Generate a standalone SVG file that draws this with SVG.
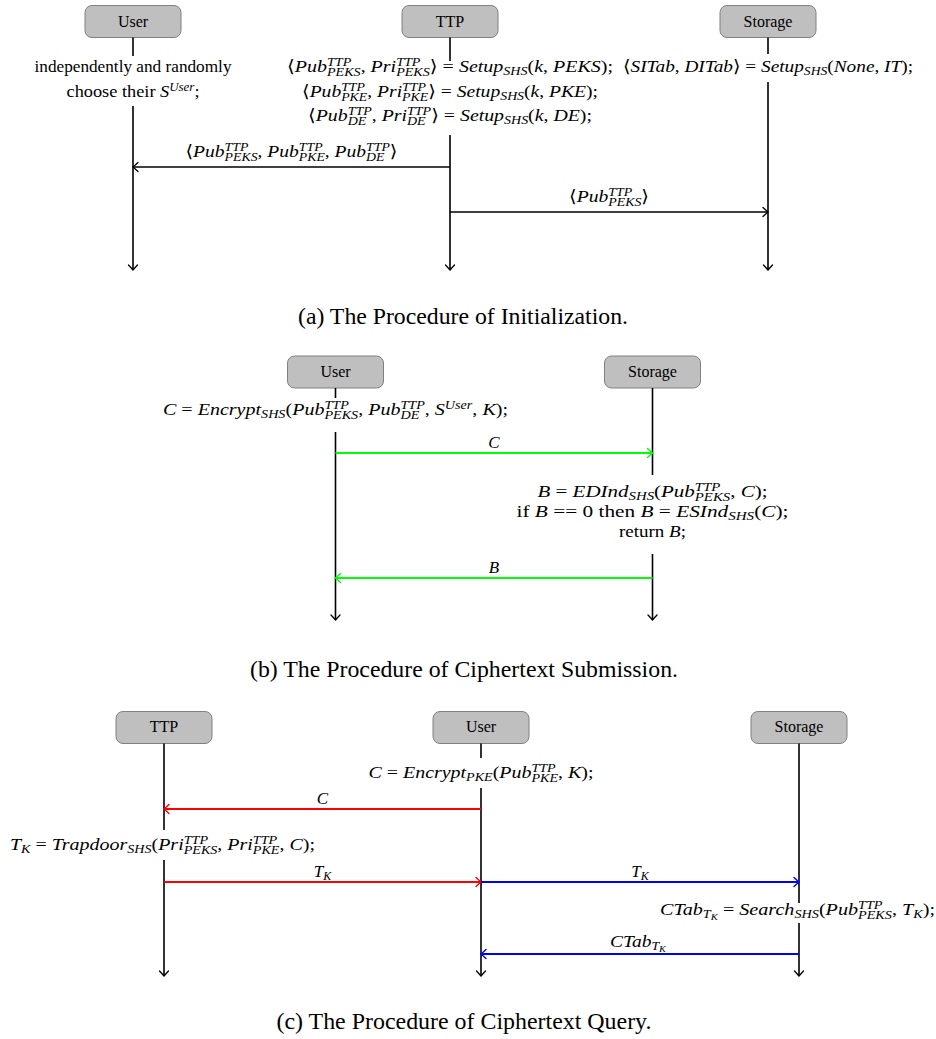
<svg xmlns="http://www.w3.org/2000/svg" width="936" height="1039" viewBox="0 0 936 1039">
<style>
.bg{fill:#fff}
.box{fill:#bfbfbf;stroke:#808080;stroke-width:1}
.lbl{font-family:"Liberation Serif","DejaVu Serif",serif;font-size:16px;fill:#000;text-anchor:middle}
.t{font-family:"Liberation Serif","DejaVu Serif","DejaVu Sans",serif;font-size:17px;fill:#000;text-anchor:middle}
.i{font-style:italic}
.u{font-style:normal}
.s{font-size:12px}
.ss{font-size:9px}
.life{stroke:#000;stroke-width:1.6;fill:none}
.k{stroke:#000;stroke-width:1.6;fill:none}
.g{stroke:#00ff00;stroke-width:1.8;fill:none}
.r{stroke:#ff0000;stroke-width:1.8;fill:none}
.b{stroke:#0000ff;stroke-width:1.8;fill:none}
.cap{font-family:"Liberation Serif","DejaVu Serif",serif;font-size:23px;fill:#000;text-anchor:middle}
</style>
<defs>
<marker id="mk" markerUnits="userSpaceOnUse" markerWidth="12" markerHeight="12" viewBox="-8 -6 10 12" refX="0" refY="0" orient="auto"><path d="M-5,-4.5 Q-1.5,-1.2 0,0 Q-1.5,1.2 -5,4.5" fill="none" stroke="#000" stroke-width="1.3" stroke-linecap="round"/></marker>
<marker id="mg" markerUnits="userSpaceOnUse" markerWidth="12" markerHeight="12" viewBox="-8 -6 10 12" refX="0" refY="0" orient="auto"><path d="M-5,-4.5 Q-1.5,-1.2 0,0 Q-1.5,1.2 -5,4.5" fill="none" stroke="#00ff00" stroke-width="1.4" stroke-linecap="round"/></marker>
<marker id="mr" markerUnits="userSpaceOnUse" markerWidth="12" markerHeight="12" viewBox="-8 -6 10 12" refX="0" refY="0" orient="auto"><path d="M-5,-4.5 Q-1.5,-1.2 0,0 Q-1.5,1.2 -5,4.5" fill="none" stroke="#ff0000" stroke-width="1.4" stroke-linecap="round"/></marker>
<marker id="mb" markerUnits="userSpaceOnUse" markerWidth="12" markerHeight="12" viewBox="-8 -6 10 12" refX="0" refY="0" orient="auto"><path d="M-5,-4.5 Q-1.5,-1.2 0,0 Q-1.5,1.2 -5,4.5" fill="none" stroke="#0000ff" stroke-width="1.4" stroke-linecap="round"/></marker>
</defs>
<rect class="bg" x="0" y="0" width="936" height="1039"/>

<!-- (a) Initialization -->
<g id="a-user"><rect class="box" x="85" y="5.5" width="96" height="32" rx="7"/><text class="lbl" x="133" y="26.5">User</text></g>
<g id="a-ttp"><rect class="box" x="402" y="5.5" width="96" height="32" rx="7"/><text class="lbl" x="450" y="26.5">TTP</text></g>
<g id="a-storage"><rect class="box" x="720" y="5.5" width="96" height="32" rx="7"/><text class="lbl" x="768" y="26.5">Storage</text></g>
<g id="a-lifelines">
<path class="life" d="M133,37.5V56M133,106V270" marker-end="url(#mk)"/>
<path class="life" d="M450,37.5V61M450,135V270" marker-end="url(#mk)"/>
<path class="life" d="M768,37.5V54M768,82V270" marker-end="url(#mk)"/>
</g>
<g id="a-notes">
<text class="t" x="133" y="72" textLength="197" lengthAdjust="spacingAndGlyphs">independently and randomly</text>
<text class="t" x="133" y="97" textLength="133" lengthAdjust="spacingAndGlyphs">choose their <tspan class="i">S</tspan><tspan class="i s" dy="-6.5">User</tspan><tspan dy="6.5">;</tspan></text>
<text class="t i" x="450" y="72" textLength="326" lengthAdjust="spacingAndGlyphs"><tspan class="u">⟨</tspan>Pub<tspan class="s" dy="-6.5">TTP</tspan><tspan class="s" dx="-20.7" dy="10.5">PEKS</tspan><tspan class="u" dy="-4">, </tspan>Pri<tspan class="s" dy="-6.5">TTP</tspan><tspan class="s" dx="-20.7" dy="10.5">PEKS</tspan><tspan class="u" dy="-4">⟩ = </tspan>Setup<tspan class="s" dy="3">SHS</tspan><tspan class="u" dy="-3">(</tspan>k<tspan class="u">, </tspan>PEKS<tspan class="u">);</tspan></text>
<text class="t i" x="450" y="97" textLength="296" lengthAdjust="spacingAndGlyphs"><tspan class="u">⟨</tspan>Pub<tspan class="s" dy="-6.5">TTP</tspan><tspan class="s" dx="-20.7" dy="10.5">PKE</tspan><tspan class="u" dy="-4">, </tspan>Pri<tspan class="s" dy="-6.5">TTP</tspan><tspan class="s" dx="-20.7" dy="10.5">PKE</tspan><tspan class="u" dy="-4">⟩ = </tspan>Setup<tspan class="s" dy="3">SHS</tspan><tspan class="u" dy="-3">(</tspan>k<tspan class="u">, </tspan>PKE<tspan class="u">);</tspan></text>
<text class="t i" x="450" y="121" textLength="284" lengthAdjust="spacingAndGlyphs"><tspan class="u">⟨</tspan>Pub<tspan class="s" dy="-6.5">TTP</tspan><tspan class="s" dx="-20.7" dy="10.5">DE</tspan><tspan class="u" dx="4.7" dy="-4">, </tspan>Pri<tspan class="s" dy="-6.5">TTP</tspan><tspan class="s" dx="-20.7" dy="10.5">DE</tspan><tspan class="u" dx="4.7" dy="-4">⟩ = </tspan>Setup<tspan class="s" dy="3">SHS</tspan><tspan class="u" dy="-3">(</tspan>k<tspan class="u">, </tspan>DE<tspan class="u">);</tspan></text>
<text class="t i" x="768" y="72" textLength="290" lengthAdjust="spacingAndGlyphs"><tspan class="u">⟨</tspan>SITab<tspan class="u">, </tspan>DITab<tspan class="u">⟩ = </tspan>Setup<tspan class="s" dy="3">SHS</tspan><tspan class="u" dy="-3">(</tspan>None<tspan class="u">, </tspan>IT<tspan class="u">);</tspan></text>
</g>
<g id="a-connectors">
<path class="k" d="M450,167H133" marker-end="url(#mk)"/>
<path class="k" d="M450,212H768" marker-end="url(#mk)"/>
<text class="t i" x="291.5" y="157" textLength="212" lengthAdjust="spacingAndGlyphs"><tspan class="u">⟨</tspan>Pub<tspan class="s" dy="-6.5">TTP</tspan><tspan class="s" dx="-20.7" dy="10.5">PEKS</tspan><tspan class="u" dy="-4">, </tspan>Pub<tspan class="s" dy="-6.5">TTP</tspan><tspan class="s" dx="-20.7" dy="10.5">PKE</tspan><tspan class="u" dy="-4">, </tspan>Pub<tspan class="s" dy="-6.5">TTP</tspan><tspan class="s" dx="-20.7" dy="10.5">DE</tspan><tspan class="u" dx="4.7" dy="-4">⟩</tspan></text>
<text class="t i" x="609" y="202" textLength="80" lengthAdjust="spacingAndGlyphs"><tspan class="u">⟨</tspan>Pub<tspan class="s" dy="-6.5">TTP</tspan><tspan class="s" dx="-20.7" dy="10.5">PEKS</tspan><tspan class="u" dy="-4">⟩</tspan></text>
</g>
<text class="cap" x="463" y="324" textLength="330" lengthAdjust="spacingAndGlyphs">(a) The Procedure of Initialization.</text>

<!-- (b) Ciphertext Submission -->
<g id="b-user"><rect class="box" x="287.5" y="356" width="96" height="32" rx="7"/><text class="lbl" x="335.5" y="376.5">User</text></g>
<g id="b-storage"><rect class="box" x="604.5" y="356" width="96" height="32" rx="7"/><text class="lbl" x="652.5" y="376.5">Storage</text></g>
<g id="b-lifelines">
<path class="life" d="M335.5,388V398M335.5,432V620" marker-end="url(#mk)"/>
<path class="life" d="M652.5,388V475M652.5,554V620" marker-end="url(#mk)"/>
</g>
<g id="b-notes">
<text class="t i" x="335.5" y="415" textLength="345" lengthAdjust="spacingAndGlyphs">C<tspan class="u"> = </tspan>Encrypt<tspan class="s" dy="3">SHS</tspan><tspan class="u" dy="-3">(</tspan>Pub<tspan class="s" dy="-6.5">TTP</tspan><tspan class="s" dx="-20.7" dy="10.5">PEKS</tspan><tspan class="u" dy="-4">, </tspan>Pub<tspan class="s" dy="-6.5">TTP</tspan><tspan class="s" dx="-20.7" dy="10.5">DE</tspan><tspan class="u" dx="4.7" dy="-4">, </tspan>S<tspan class="s" dy="-6.5">User</tspan><tspan class="u" dy="6.5">, </tspan>K<tspan class="u">);</tspan></text>
<text class="t i" x="652.5" y="497" textLength="230" lengthAdjust="spacingAndGlyphs">B<tspan class="u"> = </tspan>EDInd<tspan class="s" dy="3">SHS</tspan><tspan class="u" dy="-3">(</tspan>Pub<tspan class="s" dy="-6.5">TTP</tspan><tspan class="s" dx="-20.7" dy="10.5">PEKS</tspan><tspan class="u" dy="-4">, </tspan>C<tspan class="u">);</tspan></text>
<text class="t" x="652.5" y="517" textLength="272" lengthAdjust="spacingAndGlyphs">if <tspan class="i">B</tspan> == 0 then <tspan class="i">B</tspan> = <tspan class="i">ESInd</tspan><tspan class="i s" dy="3">SHS</tspan><tspan dy="-3">(</tspan><tspan class="i">C</tspan>);</text>
<text class="t" x="652.5" y="537" textLength="67" lengthAdjust="spacingAndGlyphs">return <tspan class="i">B</tspan>;</text>
</g>
<g id="b-connectors">
<path class="g" d="M335.5,453H652.5" marker-end="url(#mg)"/>
<path class="g" d="M652.5,578H335.5" marker-end="url(#mg)"/>
<text class="t i" x="494" y="448">C</text>
<text class="t i" x="494" y="573">B</text>
</g>
<text class="cap" x="464" y="677" textLength="428" lengthAdjust="spacingAndGlyphs">(b) The Procedure of Ciphertext Submission.</text>

<!-- (c) Ciphertext Query -->
<g id="c-ttp"><rect class="box" x="116" y="711.5" width="96" height="32" rx="7"/><text class="lbl" x="164" y="732">TTP</text></g>
<g id="c-user"><rect class="box" x="433" y="711.5" width="96" height="32" rx="7"/><text class="lbl" x="481" y="732">User</text></g>
<g id="c-storage"><rect class="box" x="751" y="711.5" width="96" height="32" rx="7"/><text class="lbl" x="799" y="732">Storage</text></g>
<g id="c-lifelines">
<path class="life" d="M164,743.5V830M164,860V976" marker-end="url(#mk)"/>
<path class="life" d="M481,743.5V758M481,788V976" marker-end="url(#mk)"/>
<path class="life" d="M799,743.5V903M799,923V976" marker-end="url(#mk)"/>
</g>
<g id="c-notes">
<text class="t i" x="481" y="778" textLength="225" lengthAdjust="spacingAndGlyphs">C<tspan class="u"> = </tspan>Encrypt<tspan class="s" dy="3">PKE</tspan><tspan class="u" dy="-3">(</tspan>Pub<tspan class="s" dy="-6.5">TTP</tspan><tspan class="s" dx="-20.7" dy="10.5">PKE</tspan><tspan class="u" dy="-4">, </tspan>K<tspan class="u">);</tspan></text>
<text class="t i" x="162.5" y="850" textLength="305" lengthAdjust="spacingAndGlyphs">T<tspan class="s" dy="3">K</tspan><tspan class="u" dy="-3"> = </tspan>Trapdoor<tspan class="s" dy="3">SHS</tspan><tspan class="u" dy="-3">(</tspan>Pri<tspan class="s" dy="-6.5">TTP</tspan><tspan class="s" dx="-20.7" dy="10.5">PEKS</tspan><tspan class="u" dy="-4">, </tspan>Pri<tspan class="s" dy="-6.5">TTP</tspan><tspan class="s" dx="-20.7" dy="10.5">PKE</tspan><tspan class="u" dy="-4">, </tspan>C<tspan class="u">);</tspan></text>
<text class="t i" x="797.5" y="915" textLength="275" lengthAdjust="spacingAndGlyphs">CTab<tspan class="s" dy="3">T</tspan><tspan class="ss" dy="2">K</tspan><tspan class="u" dy="-5"> = </tspan>Search<tspan class="s" dy="3">SHS</tspan><tspan class="u" dy="-3">(</tspan>Pub<tspan class="s" dy="-6.5">TTP</tspan><tspan class="s" dx="-20.7" dy="10.5">PEKS</tspan><tspan class="u" dy="-4">, </tspan>T<tspan class="s" dy="3">K</tspan><tspan class="u" dy="-3">);</tspan></text>
</g>
<g id="c-connectors">
<path class="r" d="M481,809H164" marker-end="url(#mr)"/>
<path class="r" d="M164,882H481" marker-end="url(#mr)"/>
<path class="b" d="M481,882H799" marker-end="url(#mb)"/>
<path class="b" d="M799,954H481" marker-end="url(#mb)"/>
<text class="t i" x="322.5" y="804">C</text>
<text class="t i" x="322.5" y="877">T<tspan class="s" dy="3">K</tspan></text>
<text class="t i" x="640" y="877">T<tspan class="s" dy="3">K</tspan></text>
<text class="t i" x="638" y="947" textLength="56" lengthAdjust="spacingAndGlyphs">CTab<tspan class="s" dy="3">T</tspan><tspan class="ss" dy="2">K</tspan></text>
</g>
<text class="cap" x="464" y="1029" textLength="375" lengthAdjust="spacingAndGlyphs">(c) The Procedure of Ciphertext Query.</text>
</svg>
